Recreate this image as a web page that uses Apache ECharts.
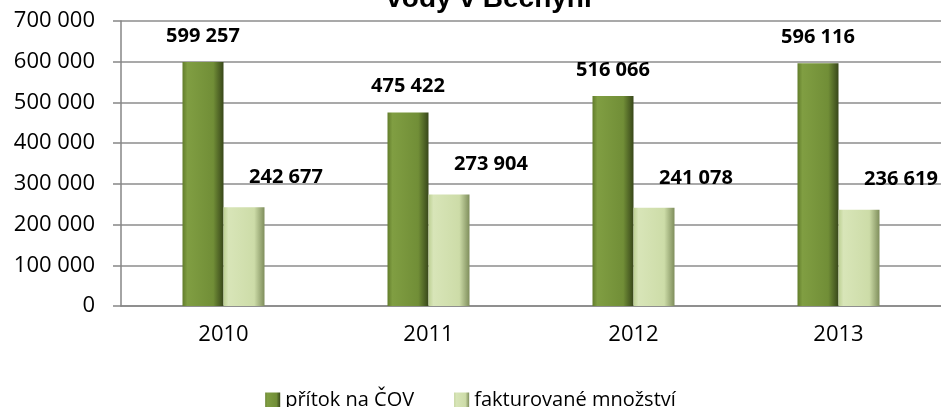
<!DOCTYPE html>
<html>
<head>
<meta charset="utf-8">
<script src="https://cdn.jsdelivr.net/npm/echarts@6/dist/echarts.min.js"></script>
<style>
  html, body { margin: 0; padding: 0; background: #fff; }
  #chart { width: 941px; height: 407px; }
</style>
</head>
<body>
<div id="chart"></div>
<script>
const years = ['2010', '2011', '2012', '2013']
const pritok = [599257, 475422, 516066, 596116]
const fakturovane = [242677, 273904, 241078, 236619]
const seriesNames = ['přítok na ČOV', 'fakturované množství']
const titleText = 'vody v Bechyni'

const chart = echarts.init(document.getElementById('chart'))

// mezery mezi tisíci jako v originálu
const fmt = v => String(v).replace(/\B(?=(\d{3})+(?!\d))/g, ' ')

const darkGreen = new echarts.graphic.LinearGradient(0, 0, 1, 0, [
    { offset: 0, color: '#627d2b' },
    { offset: 0.12, color: '#809e42' },
    { offset: 0.75, color: '#718e37' },
    { offset: 1, color: '#38471a' }
])
const lightGreen = new echarts.graphic.LinearGradient(0, 0, 1, 0, [
    { offset: 0, color: '#bdd093' },
    { offset: 0.12, color: '#d8e5b8' },
    { offset: 0.75, color: '#cddca8' },
    { offset: 1, color: '#7f8e5c' }
])

const labelStyle = {
    show: true,
    position: 'top',
    distance: 16,
    fontFamily: 'Open Sans',
    fontWeight: 'bold',
    fontSize: 20,
    color: '#000',
    formatter: p => fmt(p.value)
}

const option = {
    animation: false,
    // titulek je nahoře uříznutý, proto graphic s pevnou pozicí
    graphic: [{
        type: 'text',
        x: 489,
        y: 13,
        style: {
            text: titleText,
            textAlign: 'center',
            textVerticalAlign: 'bottom',
            fontFamily: 'Liberation Sans',
            fontWeight: 'bold',
            fontSize: 28,
            fill: '#000'
        }
    }],
    legend: {
        top: 390,
        left: 'center',
        padding: 0,
        icon: 'rect',
        itemWidth: 15,
        itemHeight: 15,
        itemGap: 40,
        textStyle: {
            fontFamily: 'Open Sans',
            fontSize: 20,
            color: '#000'
        },
        data: seriesNames
    },
    grid: {
        left: 121,
        right: 0,
        top: 21,
        bottom: 101
    },
    xAxis: {
        type: 'category',
        data: years,
        axisLine: { lineStyle: { color: '#868686', width: 1.5 } },
        axisTick: { length: 8, lineStyle: { color: '#868686', width: 1.5 } },
        axisLabel: {
            margin: 18,
            fontFamily: 'Open Sans',
            fontSize: 22,
            color: '#000'
        }
    },
    yAxis: {
        type: 'value',
        min: 0,
        max: 700000,
        interval: 100000,
        axisLine: { show: true, lineStyle: { color: '#868686', width: 1.5 } },
        axisTick: { show: true, length: 8, lineStyle: { color: '#868686', width: 1.5 } },
        splitLine: { lineStyle: { color: '#8c8c8c', width: 1.5 } },
        axisLabel: {
            margin: 26,
            fontFamily: 'Open Sans',
            fontSize: 22,
            color: '#000',
            formatter: v => fmt(v)
        }
    },
    series: [
        {
            name: seriesNames[0],
            type: 'bar',
            barWidth: 41,
            barGap: '0%',
            itemStyle: { color: darkGreen },
            label: labelStyle,
            data: pritok
        },
        {
            name: seriesNames[1],
            type: 'bar',
            barWidth: 41,
            itemStyle: { color: lightGreen },
            label: Object.assign({}, labelStyle, { offset: [42, 0], distance: 20 }),
            data: fakturovane
        }
    ]
}

chart.setOption(option)
</script>
</body>
</html>
